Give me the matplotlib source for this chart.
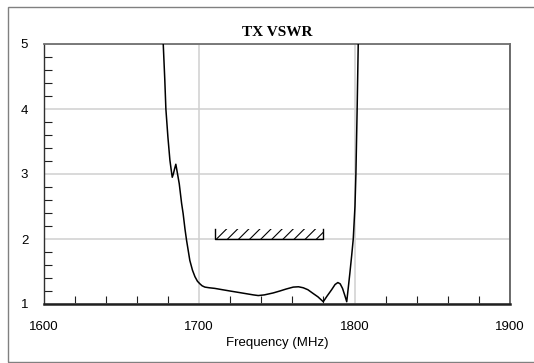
import matplotlib.pyplot as plt
from matplotlib.patches import Rectangle
from matplotlib.ticker import MultipleLocator

# measured TX VSWR curve
freq = [1676.5, 1677.0, 1678.0, 1678.7, 1680.0, 1681.3, 1682.2, 1682.8, 1683.5,
        1684.3, 1685.1, 1686.2, 1687.3, 1688.8, 1689.8, 1691.0, 1692.0, 1694.1,
        1695.8, 1697.4, 1699.0, 1700.6, 1702.0, 1703.8, 1706.5, 1710.2, 1715.0,
        1719.9, 1725.0, 1730.0, 1735.0, 1738.1, 1742.0, 1747.7, 1752.0, 1756.0,
        1760.6, 1764.0, 1767.0, 1770.0, 1773.5, 1776.5, 1779.9, 1782.3, 1785.3,
        1787.5, 1789.3, 1790.8, 1792.3, 1793.8, 1795.0, 1796.0, 1797.0, 1798.2,
        1799.2, 1800.3, 1800.9, 1801.7, 1802.4, 1803.0]
vswr = [5.6, 5.0, 4.45, 4.0, 3.57, 3.21, 3.05, 2.95, 3.0,
        3.08, 3.15, 3.0, 2.85, 2.55, 2.39, 2.15, 1.98, 1.67,
        1.52, 1.42, 1.35, 1.31, 1.28, 1.26, 1.25, 1.24, 1.22,
        1.20, 1.18, 1.16, 1.14, 1.13, 1.14, 1.17, 1.20, 1.23,
        1.26, 1.265, 1.25, 1.22, 1.16, 1.11, 1.035, 1.12, 1.22,
        1.30, 1.33, 1.31, 1.24, 1.13, 1.035, 1.25, 1.47, 1.75,
        2.0, 2.5, 3.0, 4.0, 5.0, 5.8]

# spec window
spec_lo, spec_hi = 1710, 1780
spec_vswr = 2.0
spec_h = 0.15

xticks = [1600, 1700, 1800, 1900]
yticks = [1, 2, 3, 4, 5]

plt.rcParams['font.family'] = ['Liberation Sans', 'DejaVu Sans']
plt.rcParams['hatch.linewidth'] = 0.8

fig = plt.figure(figsize=(5.34, 3.63), dpi=100)
fig.patches.append(Rectangle((8/534, 1/363), 1.2, 355/363, transform=fig.transFigure,
                             fill=False, edgecolor='#808080', linewidth=1.0))

ax = fig.add_axes([43.5/534, 59/363, 466.5/534, 260/363])

ax.plot(freq, vswr, color='black', linewidth=1.1, zorder=3)

ax.add_patch(Rectangle((spec_lo, spec_vswr), spec_hi - spec_lo, spec_h,
                       fill=False, hatch='///', edgecolor='black', linewidth=0, zorder=3))
ax.plot([spec_lo, spec_lo, spec_hi, spec_hi],
        [spec_vswr + spec_h, spec_vswr, spec_vswr, spec_vswr + spec_h],
        color='black', linewidth=1.0, zorder=3)

ax.set_xlim(1600, 1900)
ax.set_ylim(1, 5)
ax.set_xticks(xticks)
ax.set_yticks(yticks)
ax.xaxis.set_minor_locator(MultipleLocator(20))
ax.yaxis.set_minor_locator(MultipleLocator(0.2))
ax.tick_params(which='major', length=0, labelsize=9.5, pad=11)
ax.tick_params(which='minor', direction='in', length=6, width=0.8, color='#202020')
ax.tick_params(axis='x', which='major', pad=12)
ax.grid(True, which='major', color='#d0d0d0', linewidth=1.1, zorder=0)

ax.spines['bottom'].set_linewidth(1.8)
ax.spines['bottom'].set_color('#202020')
ax.spines['left'].set_linewidth(1.0)
ax.spines['left'].set_color('#303030')
ax.spines['top'].set_linewidth(1.3)
ax.spines['top'].set_color('#707070')
ax.spines['right'].set_linewidth(1.3)
ax.spines['right'].set_color('#606060')

ax.set_title('TX VSWR', fontsize=11, fontweight='bold', family='Liberation Serif', pad=6)
ax.set_xlabel('Frequency (MHz)', fontsize=9.5, labelpad=3)

fig.savefig('out.png', dpi=100)
